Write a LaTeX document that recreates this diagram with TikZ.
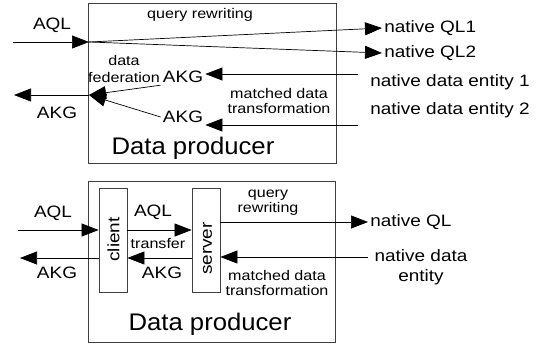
\documentclass[tikz,border=0pt]{standalone}
\usepackage{fontspec}
\setmainfont{Liberation Sans}
\newfontfamily\widesans[FakeStretch=1.15]{Liberation Sans}
\newfontfamily\bigsans[FakeStretch=1.07]{Liberation Sans}
\usetikzlibrary{arrows.meta,positioning}

\begin{document}
\begin{tikzpicture}[x=1pt,y=-1pt,>={Triangle[length=17pt,width=13pt]},line width=0.7pt,
    lbl/.style={font=\widesans\fontsize{16.5}{20}\selectfont,inner sep=2pt,align=center},
    sm/.style={font=\widesans\fontsize{14}{15}\selectfont,inner sep=0pt,align=center},
    big/.style={font=\bigsans\fontsize{24}{28}\selectfont,inner sep=0pt},
    box/.style={draw=black!75,line width=0.8pt,inner sep=0pt}]
  \useasboundingbox (0,0) rectangle (543,346);
  % top producer
  \node[box,minimum width=248pt,minimum height=160pt] (prod1) at (212,83) {};
  \coordinate (aqlin) at (13,42);
  \coordinate (fork) at (89,42);
  \coordinate (merge) at (89,95);
  \coordinate (akgout) at (14,95);
  \coordinate (ent1in) at (358,74);
  \coordinate (ent2in) at (358,125);
  \node[lbl,anchor=west] (ql1) at (382,28) {native QL1};
  \node[lbl,anchor=west] (ql2) at (382,53) {native QL2};
  \node[lbl,anchor=west] (ent1) at (368,82) {native data entity 1};
  \node[lbl,anchor=west] (ent2) at (368,110) {native data entity 2};
  \node[lbl] (akg1) at (183,77) {AKG};
  \node[lbl] (akg2) at (183,117) {AKG};
  \node[lbl] (aql1) at (52,25) {AQL};
  \node[lbl] (akg3) at (57,113) {AKG};
  \node[sm] (rew1) at (200,15) {query rewriting};
  \node[sm,font=\widesans\fontsize{14}{17}\selectfont] (fed) at (124,68.5) {data\\federation};
  \node[sm] (mat1) at (279,100.5) {matched data\\transformation};
  \node[big] (dp1) at (193,148) {Data producer};
  \path[->] (aqlin) edge (fork);
  \path[->] (fork) edge (ql1.west);
  \path[->] (fork) edge (ql2.west);
  \path[->] (ent1in) edge (ent1in -| akg1.east);
  \path[->] (ent2in) edge (ent2in -| akg2.east);
  \path[->] (akg1.south west) edge (merge);
  \path[->] (akg2.west) edge (merge);
  \path[->] (merge) edge (akgout);
  % bottom producer
  \node[box,minimum width=247pt,minimum height=161pt] (prod2) at (211.5,261.5) {};
  \node[box,minimum width=28pt,minimum height=104pt] (client) at (113,240) {};
  \node[box,minimum width=28pt,minimum height=104pt] (server) at (206,240) {};
  \node[lbl,rotate=90] (ctext) at (113.5,239.5) {client};
  \node[lbl,rotate=90] (stext) at (207.5,248.5) {server};
  \coordinate (aqlin2) at (18,230);
  \coordinate (akgout2) at (20,258);
  \coordinate (entin) at (368,257);
  \node[lbl,anchor=west] (ql) at (368,222) {native QL};
  \node[lbl] (ent) at (421,267) {native data\\entity};
  \node[lbl] (aql2) at (53,213) {AQL};
  \node[lbl] (aql3) at (153,212) {AQL};
  \node[sm] (trans) at (158,243) {transfer};
  \node[lbl] (akg4) at (162,273) {AKG};
  \node[lbl] (akg5) at (57,273) {AKG};
  \node[sm] (rew2) at (268,202.5) {query\\rewriting};
  \node[sm] (mat2) at (277,282.5) {matched data\\transformation};
  \node[big] (dp2) at (210,324) {Data producer};
  \path[->] (aqlin2) edge (aqlin2 -| client.west);
  \path[->] (aqlin2 -| client.east) edge (aqlin2 -| server.west);
  \path[->] (akgout2 -| server.west) edge (akgout2 -| client.east);
  \path[->] (akgout2 -| client.west) edge (akgout2);
  \path[->] (ql.west -| server.east) edge (ql.west);
  \path[->] (entin) edge (entin -| server.east);
\end{tikzpicture}
\end{document}
